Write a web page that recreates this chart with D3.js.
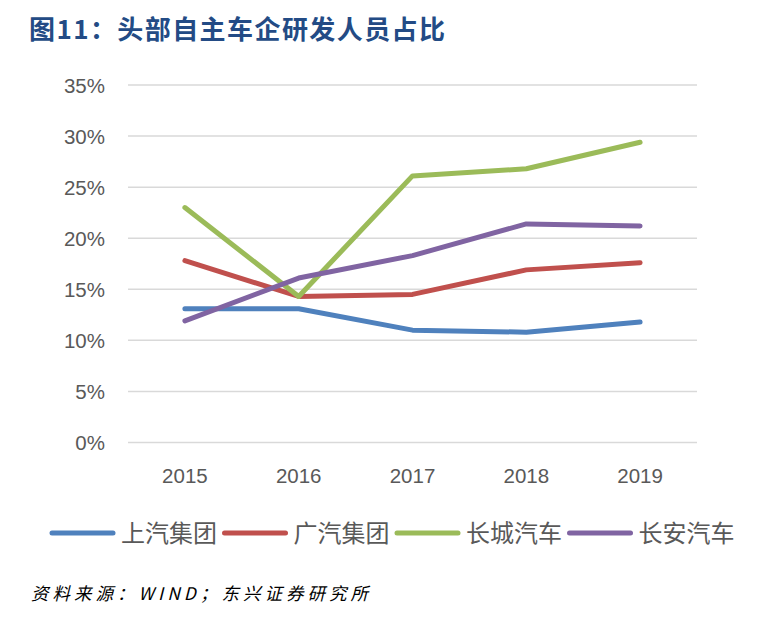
<!DOCTYPE html>
<html>
<head>
<meta charset="utf-8">
<script src="https://cdn.jsdelivr.net/npm/d3@7"></script>
<style>
  body { margin: 0; background: #fff; }
  text { font-family: "Liberation Sans", Arial, sans-serif; }
  .cjk { font-family: "Noto Sans CJK SC", sans-serif; }
</style>
</head>
<body>
<script>
var years = ['2015', '2016', '2017', '2018', '2019']
var yTicks = [0, 5, 10, 15, 20, 25, 30, 35]

var names = ['上汽集团', '广汽集团', '长城汽车', '长安汽车']
var colors = ['#4F81BD', '#C0504D', '#9BBB59', '#8064A2']

// 研发人员占比 (%)
var saic = [13.1, 13.1, 11.0, 10.8, 11.8]
var gac = [17.8, 14.3, 14.5, 16.9, 17.6]
var gwm = [23.0, 14.3, 26.1, 26.8, 29.4]
var changan = [11.9, 16.1, 18.3, 21.4, 21.2]

var series = [saic, gac, gwm, changan]

var w = 763
var h = 635

var svg = d3.select('body')
            .append('svg')
            .attr('width', w)
            .attr('height', h)

// TITLE
svg.append('text')
  .attr('class', 'cjk')
  .attr('x', 29)
  .attr('y', 39)
  .attr('font-size', 26)
  .attr('font-weight', 'bold')
  .attr('fill', '#234B85')
  .attr('textLength', 416)
  .attr('lengthAdjust', 'spacing')
  .text('图11：头部自主车企研发人员占比')

var x = d3.scalePoint()
        .domain(years)
        .range([128, 697])
        .padding(0.5)

var y = d3.scaleLinear()
        .domain([0, 35])
        .range([442.5, 85])

// GRIDLINES
svg.selectAll('.grid')
  .data(yTicks)
  .enter()
    .append('line')
    .classed('grid', true)
    .attr('x1', 128)
    .attr('x2', 697)
    .attr('y1', function (d) { return y(d) })
    .attr('y2', function (d) { return y(d) })
    .attr('stroke', '#d9d9d9')
    .attr('stroke-width', 1.5)

// Y LABELS
svg.selectAll('.y-label')
  .data(yTicks)
  .enter()
    .append('text')
    .classed('y-label', true)
    .attr('x', 105)
    .attr('y', function (d) { return y(d) })
    .attr('dy', 7.5)
    .attr('text-anchor', 'end')
    .attr('font-size', 20.5)
    .attr('fill', '#595959')
    .text(function (d) { return d + '%' })

// X LABELS
svg.selectAll('.x-label')
  .data(years)
  .enter()
    .append('text')
    .classed('x-label', true)
    .attr('x', function (d) { return x(d) })
    .attr('y', 483)
    .attr('text-anchor', 'middle')
    .attr('font-size', 20.5)
    .attr('fill', '#595959')
    .text(function (d) { return d })

// LINES
var line = d3.line()
  .x(function (d, i) { return x(years[i]) })
  .y(function (d) { return y(d) })

svg.selectAll('.series')
  .data(series)
  .enter()
    .append('path')
    .classed('series', true)
    .attr('d', line)
    .attr('fill', 'none')
    .attr('stroke', function (d, i) { return colors[i] })
    .attr('stroke-width', 5)
    .attr('stroke-linecap', 'round')
    .attr('stroke-linejoin', 'round')

// LEGEND
var legend = svg.selectAll('.legend')
  .data(names)
  .enter()
    .append('g')
    .classed('legend', true)
    .attr('transform', function (d, i) { return 'translate(' + (50 + i * 172.5) + ',533)' })

legend.append('line')
  .attr('x1', 2)
  .attr('x2', 63)
  .attr('stroke', function (d, i) { return colors[i] })
  .attr('stroke-width', 5)
  .attr('stroke-linecap', 'round')

legend.append('text')
  .attr('class', 'cjk')
  .attr('x', 71)
  .attr('dy', 8.5)
  .attr('font-size', 24)
  .attr('fill', '#595959')
  .text(function (d) { return d })

// SOURCE
svg.append('text')
  .attr('class', 'cjk')
  .attr('x', 31)
  .attr('y', 600)
  .attr('font-size', 17.5)
  .attr('font-style', 'italic')
  .attr('fill', '#000')
  .attr('textLength', 337)
  .attr('lengthAdjust', 'spacing')
  .text('资料来源：WIND；东兴证券研究所')
</script>
</body>
</html>
